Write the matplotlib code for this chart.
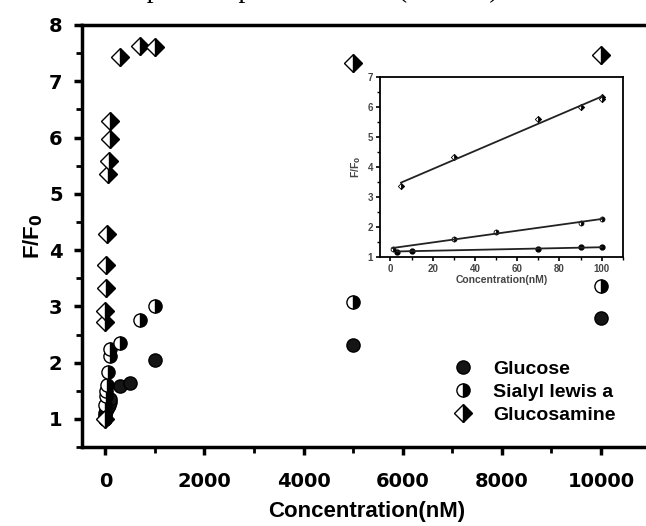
import numpy as np
import matplotlib
matplotlib.use('Agg')
import matplotlib.pyplot as plt
from matplotlib.ticker import MultipleLocator

# main plot data (nM, F/F0)
glucose_x = [0, 1, 3, 10, 30, 50, 70, 90, 100, 300, 500, 1000, 5000, 10000]
glucose_y = [1.0, 1.05, 1.1, 1.15, 1.2, 1.22, 1.25, 1.3, 1.35, 1.58, 1.64, 2.04, 2.31, 2.8]

sialyl_x = [0, 1, 5, 10, 30, 50, 90, 100, 300, 700, 1000, 5000, 10000]
sialyl_y = [1.0, 1.25, 1.4, 1.5, 1.6, 1.84, 2.12, 2.24, 2.35, 2.75, 3.0, 3.07, 3.37]

gluam_x = [0, 1, 3, 5, 10, 30, 50, 70, 90, 100, 300, 700, 1000, 5000, 10000]
gluam_y = [1.0, 2.72, 2.92, 3.32, 3.73, 4.29, 5.36, 5.59, 5.98, 6.30, 7.44, 7.62, 7.6, 7.32, 7.46]

# inset data (linear range)
in_glucose_x = [3, 10, 70, 90, 100]
in_glucose_y = [1.17, 1.19, 1.27, 1.31, 1.31]
in_sialyl_x = [1, 30, 50, 90, 100]
in_sialyl_y = [1.27, 1.58, 1.81, 2.13, 2.27]
in_gluam_x = [5, 30, 70, 90, 100, 100]
in_gluam_y = [3.36, 4.33, 5.61, 6.0, 6.34, 6.28]

labels = ['Glucose', 'Sialyl lewis a', 'Glucosamine']

plt.rcParams['font.family'] = ['Liberation Sans', 'DejaVu Sans']
plt.rcParams['font.weight'] = 'bold'

fig = plt.figure(figsize=(6.46, 5.26), dpi=100)
ax = fig.add_axes([0.127, 0.150, 0.880, 0.8025])

glu_style = dict(linestyle='none', marker='o', markersize=9.5, color='black',
                 markerfacecolor='#151515', markeredgecolor='black')
sia_style = dict(linestyle='none', marker='o', markersize=9.5, fillstyle='right',
                 markerfacecolor='black', markerfacecoloralt='white',
                 markeredgecolor='black', markeredgewidth=1)
gam_style = dict(linestyle='none', marker='D', markersize=9, fillstyle='right',
                 markerfacecolor='black', markerfacecoloralt='white',
                 markeredgecolor='black', markeredgewidth=1)

ax.plot(glucose_x, glucose_y, label=labels[0], **glu_style)
ax.plot(sialyl_x, sialyl_y, label=labels[1], **sia_style)
ax.plot(gluam_x, gluam_y, label=labels[2], **gam_style)

ax.set_xlim(-470, 11000)
ax.set_ylim(0.5, 8)
ax.xaxis.set_major_locator(MultipleLocator(2000))
ax.xaxis.set_minor_locator(MultipleLocator(1000))
ax.yaxis.set_major_locator(MultipleLocator(1))
ax.yaxis.set_minor_locator(MultipleLocator(0.5))
ax.set_yticks(range(1, 9))
for s in ax.spines.values():
    s.set_linewidth(2.5)
ax.spines['right'].set_visible(False)
ax.tick_params(which='major', length=6, width=2.5, labelsize=14)
ax.tick_params(axis='x', which='major', pad=12)
ax.tick_params(axis='y', which='major', pad=8)
ax.tick_params(which='minor', length=4, width=2)
for t in ax.get_xticklabels() + ax.get_yticklabels():
    t.set_fontweight('bold')
    t.set_fontfamily('DejaVu Sans')
ax.set_xlabel('Concentration(nM)', fontsize=16, fontweight='bold', labelpad=7)
ax.set_ylabel('F/F$_\\mathbf{0}$', fontsize=16, fontweight='bold', labelpad=3)

ax.legend(loc='lower left', bbox_to_anchor=(0.645, 0.055), frameon=False,
          fontsize=14, handlelength=1.5, handletextpad=0.8, labelspacing=0.28,
          borderpad=0, borderaxespad=0)

# inset
ins = fig.add_axes([0.588, 0.512, 0.376, 0.341])
ins.plot(in_glucose_x, in_glucose_y, linestyle='none', marker='o', markersize=3.5,
         color='black')
ins.plot(in_sialyl_x, in_sialyl_y, linestyle='none', marker='o', markersize=3.5,
         fillstyle='right', markerfacecolor='black', markerfacecoloralt='white',
         markeredgecolor='black', markeredgewidth=0.6)
ins.plot(in_gluam_x, in_gluam_y, linestyle='none', marker='D', markersize=3.2,
         fillstyle='right', markerfacecolor='black', markerfacecoloralt='white',
         markeredgecolor='black', markeredgewidth=0.6)
for xs, ys in [(in_glucose_x, in_glucose_y), (in_sialyl_x, in_sialyl_y),
               (in_gluam_x, in_gluam_y)]:
    k, b = np.polyfit(xs, ys, 1)
    xx = np.array([min(xs), max(xs)])
    ins.plot(xx, k * xx + b, color='#222222', linewidth=1.3)
ins.set_xlim(-5, 110)
ins.set_ylim(1, 7)
ins.xaxis.set_major_locator(MultipleLocator(20))
ins.xaxis.set_minor_locator(MultipleLocator(10))
ins.yaxis.set_major_locator(MultipleLocator(1))
ins.yaxis.set_minor_locator(MultipleLocator(0.5))
for s in ins.spines.values():
    s.set_linewidth(1.3)
ins.tick_params(which='major', length=3, width=1.2, labelsize=7, pad=2,
                labelcolor='#444444')
ins.tick_params(which='minor', length=2, width=1)
for t in ins.get_xticklabels() + ins.get_yticklabels():
    t.set_fontweight('bold')
ins.set_xlabel('Concentration(nM)', fontsize=7.5, fontweight='bold', color='#444444',
               labelpad=1)
ins.set_ylabel('F/F$_\\mathbf{0}$', fontsize=7.5, fontweight='bold', color='#444444',
               labelpad=3)

# cropped line of document text above the chart (only its lower edge shows)
fig.text(0.782, 1.006, 'the probe reported to date (Table 1).', ha='right',
         va='baseline', fontsize=20, family='Liberation Serif', fontweight='normal')

fig.savefig('out.png', dpi=100)
